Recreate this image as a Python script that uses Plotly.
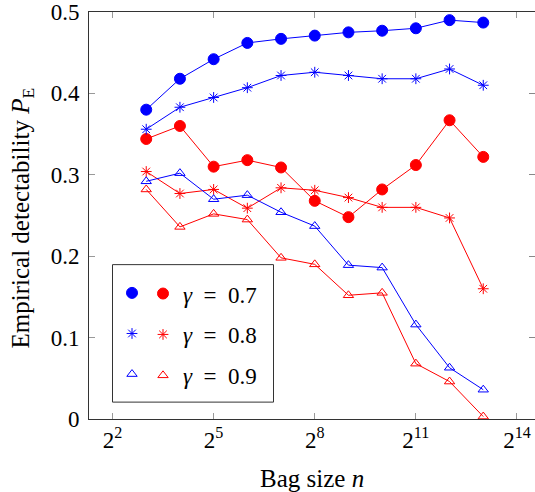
import math
import plotly.graph_objects as go

# ---- data ----
bag_sizes = [8, 16, 32, 64, 128, 256, 512, 1024, 2048, 4096, 8192]
blue_g07 = [0.380, 0.418, 0.442, 0.462, 0.467, 0.471, 0.475, 0.477, 0.480, 0.490, 0.487]
red_g07 = [0.344, 0.360, 0.310, 0.318, 0.309, 0.268, 0.248, 0.282, 0.312, 0.367, 0.322]
blue_g08 = [0.356, 0.383, 0.395, 0.407, 0.422, 0.426, 0.422, 0.418, 0.418, 0.430, 0.410]
red_g08 = [0.304, 0.277, 0.282, 0.259, 0.284, 0.281, 0.272, 0.260, 0.260, 0.247, 0.160]
blue_g09 = [0.292, 0.302, 0.270, 0.275, 0.254, 0.237, 0.189, 0.186, 0.116, 0.063, 0.036]
red_g09 = [0.282, 0.236, 0.252, 0.245, 0.198, 0.190, 0.152, 0.155, 0.068, 0.046, 0.003]
gamma_labels = ["<i>γ</i>\u2002=\u20020.7", "<i>γ</i>\u2002=\u20020.8", "<i>γ</i>\u2002=\u20020.9"]
x_tickvals = [4, 32, 256, 2048, 16384]
x_ticktext = ["2<sup>2</sup>", "2<sup>5</sup>", "2<sup>8</sup>", "2<sup>11</sup>", "2<sup>14</sup>"]
y_tickvals = [0, 0.1, 0.2, 0.3, 0.4, 0.5]
y_ticktext = ["0", "0.1", "0.2", "0.3", "0.4", "0.5"]

BLUE = "rgb(0,0,255)"
RED = "rgb(255,0,0)"
FONT = '"Liberation Serif", "Times New Roman", serif'

series = [
    (blue_g07, BLUE, "circle", 11, "legend", "\u200b", "g07b"),
    (red_g07, RED, "circle", 11, "legend2", gamma_labels[0], "g07r"),
    (blue_g08, BLUE, "asterisk-open", 9, "legend", "\u200b", "g08b"),
    (red_g08, RED, "asterisk-open", 9, "legend2", gamma_labels[1], "g08r"),
    (blue_g09, BLUE, "triangle-up-open", 9, "legend", "\u200b", "g09b"),
    (red_g09, RED, "triangle-up-open", 9, "legend2", gamma_labels[2], "g09r"),
]

fig = go.Figure()
for vals, col, sym, size, leg, name, grp in series:
    fig.add_trace(go.Scatter(
        x=bag_sizes, y=vals, mode="lines+markers",
        line=dict(color=col, width=1),
        marker=dict(symbol=sym, size=size, color=col, line=dict(color=col, width=1)),
        showlegend=False, hoverinfo="x+y",
    ))
    fig.add_trace(go.Scatter(
        x=[None], y=[None], mode="markers",
        marker=dict(symbol=sym, size=size, color=col, line=dict(color=col, width=1)),
        name=name, legend=leg, legendgroup=grp, showlegend=True,
    ))

# overlay axis for right-side ticks without a spine
fig.add_trace(go.Scatter(x=[bag_sizes[0]], y=[None], yaxis="y2", showlegend=False,
                         hoverinfo="skip", mode="markers"))

L, R, T, B = 89, 0, 9, 73
W, H = 535, 492
pw, ph = W - L - R, H - T - B

def px_to_paper_x(px):
    return (px - L) / pw

def px_to_paper_y(py):
    return (H - B - py) / ph

x0 = 1.302 * math.log10(2)
x1 = 14.535 * math.log10(2)

fig.update_layout(
    width=W, height=H,
    margin=dict(l=L, r=R, t=T, b=B),
    paper_bgcolor="white", plot_bgcolor="white",
    font=dict(family=FONT, size=23, color="black"),
    xaxis=dict(
        type="log", range=[x0, x1],
        tickvals=x_tickvals, ticktext=x_ticktext,
        ticks="inside", ticklen=6, tickcolor="#999999", tickwidth=1,
        showline=True, linecolor="#333333", linewidth=1, mirror="ticks",
        showgrid=False, zeroline=False, ticklabeloverflow="allow",
        tickfont=dict(family=FONT, size=23, color="black"),
    ),
    yaxis=dict(
        range=[0, 0.5],
        tickvals=y_tickvals, ticktext=y_ticktext,
        ticks="inside", ticklen=6, tickcolor="#999999", tickwidth=1,
        showline=True, linecolor="#333333", linewidth=1, mirror=False,
        showgrid=False, zeroline=False, ticklabeloverflow="allow",
        ticklabelstandoff=4,
        tickfont=dict(family=FONT, size=23, color="black"),
    ),
    yaxis2=dict(
        range=[0, 0.5], overlaying="y", side="right", anchor="x",
        tickvals=y_tickvals, showticklabels=False,
        ticks="inside", ticklen=6, tickcolor="#888888", tickwidth=1,
        showline=False, showgrid=False, zeroline=False,
    ),
    legend=dict(
        x=px_to_paper_x(112), y=px_to_paper_y(271), xanchor="left", yanchor="top",
        bgcolor="rgba(0,0,0,0)", borderwidth=0,
        font=dict(family=FONT, size=22, color="black"), tracegroupgap=9, traceorder="grouped",
        itemclick=False, itemdoubleclick=False,
    ),
    legend2=dict(
        x=px_to_paper_x(143), y=px_to_paper_y(271), xanchor="left", yanchor="top",
        bgcolor="rgba(0,0,0,0)", borderwidth=0,
        font=dict(family=FONT, size=23, color="black"), tracegroupgap=8, traceorder="grouped",
        itemclick=False, itemdoubleclick=False,
    ),
    shapes=[dict(
        type="rect", xref="paper", yref="paper",
        x0=px_to_paper_x(112.5), x1=px_to_paper_x(273.5),
        y0=px_to_paper_y(402), y1=px_to_paper_y(263.5),
        line=dict(color="#333333", width=1), fillcolor="white", layer="above",
    )],
    annotations=[
        dict(text="Bag size <i>n</i>", xref="paper", yref="paper",
             x=0.5, y=px_to_paper_y(479), xanchor="center", yanchor="middle",
             showarrow=False, font=dict(family=FONT, size=25, color="black")),
        dict(text="Empirical detectability <i>P</i><sub>E</sub>", xref="paper", yref="paper",
             x=px_to_paper_x(22), y=px_to_paper_y(217), xanchor="center", yanchor="middle",
             textangle=-90, showarrow=False, font=dict(family=FONT, size=25, color="black")),
    ],
)

fig.write_html("out.html")
